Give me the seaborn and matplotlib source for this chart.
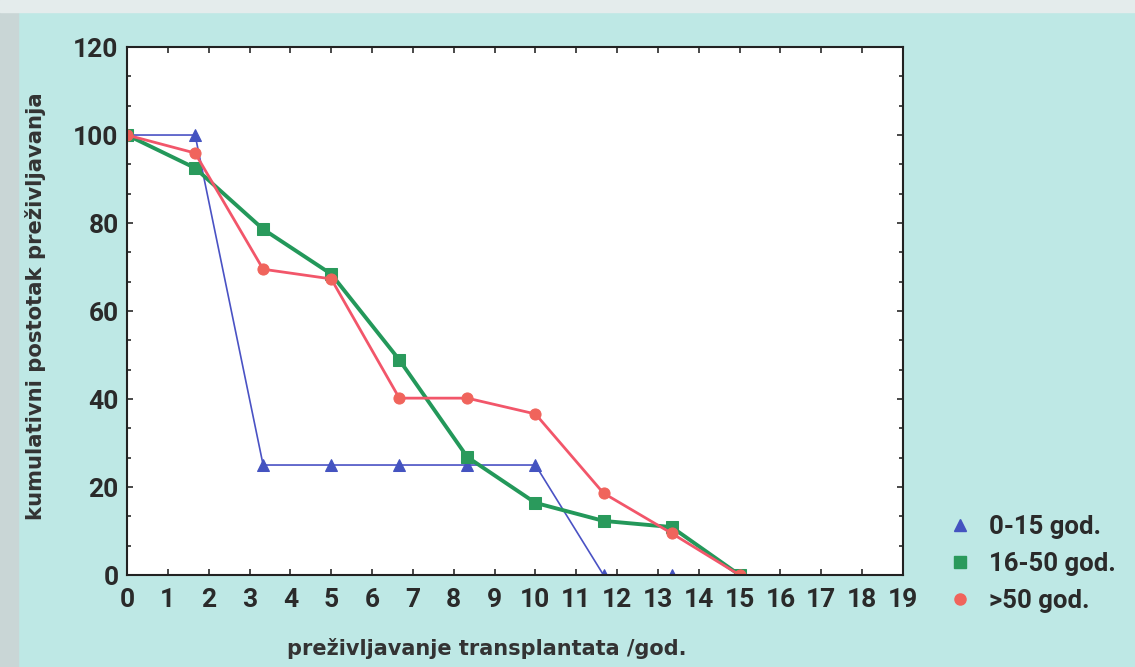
import numpy as np
import pandas as pd
import seaborn as sns
import matplotlib.pyplot as plt
from matplotlib.lines import Line2D
from matplotlib.patches import Rectangle
from matplotlib.ticker import MultipleLocator, AutoMinorLocator

# data (years, cumulative survival %)
years = [0, 1.667, 3.333, 5, 6.667, 8.333, 10, 11.667, 13.333, 15]
group_0_15 = [100, 100, 25, 25, 25, 25, 25, 0, 0]
group_16_50 = [100, 92.5, 78.6, 68.4, 48.9, 26.8, 16.4, 12.3, 10.9, 0]
group_50 = [100, 95.9, 69.5, 67.3, 40.2, 40.2, 36.6, 18.6, 9.5, 0]
labels = ['0-15 god.', '16-50 god.', '>50 god.']

colors = ['#4a52c4', '#23985a', '#f2566a']
marker_colors = ['#4453c0', '#2a9a5c', '#f0645c']
markers = ['^', 's', 'o']
widths = [1.2, 2.8, 2.0]

series = [group_0_15, group_16_50, group_50]
frames = []
for lab, vals in zip(labels, series):
    frames.append(pd.DataFrame({'t': years[:len(vals)], 'pct': vals, 'grupa': lab}))
df = pd.concat(frames, ignore_index=True)

sns.set_style('ticks')
plt.rcParams['font.family'] = ['Roboto', 'DejaVu Sans']
plt.rcParams['font.weight'] = 'bold'

bg = '#bee8e5'
fig = plt.figure(figsize=(11.35, 6.67), dpi=100, facecolor=bg)
# scan edges
fig.patches.append(Rectangle((0, 0), 0.016, 1, transform=fig.transFigure,
                             color='#c9d6d6', zorder=0))
fig.patches.append(Rectangle((0, 0.982), 1, 0.018, transform=fig.transFigure,
                             color='#e4ecec', zorder=0))
ax = fig.add_axes([0.1119, 0.1379, 0.6837, 0.7916])
ax.set_facecolor('white')

for lab, c, mc, m, lw in zip(labels, colors, marker_colors, markers, widths):
    sns.lineplot(data=df[df.grupa == lab], x='t', y='pct', ax=ax, color=c,
                 linewidth=lw, marker=m, markersize=8, markerfacecolor=mc,
                 markeredgecolor=mc, legend=False)

ax.set_xlim(0, 19)
ax.set_ylim(0, 120)
ax.xaxis.set_major_locator(MultipleLocator(1))
ax.yaxis.set_major_locator(MultipleLocator(20))
ax.yaxis.set_minor_locator(AutoMinorLocator(3))
ax.tick_params(which='both', direction='in', top=True, right=True,
               labelsize=19, length=4, width=1.2, pad=6, colors='#2a2a2a')
ax.tick_params(which='minor', length=3)
ax.tick_params(axis='x', pad=9)
for s in ax.spines.values():
    s.set_linewidth(1.5)
    s.set_color('#222222')

ax.set_xlabel('preživljavanje transplantata /god.', fontsize=15,
              family=['DejaVu Sans'], fontweight='bold', color='#333333')
ax.xaxis.set_label_coords(0.464, -0.12)
ax.set_ylabel('kumulativni postotak preživljavanja', fontsize=15.2,
              family=['DejaVu Sans'], fontweight='bold', color='#333333')
ax.yaxis.set_label_coords(-0.104, 0.51)

handles = [Line2D([], [], linestyle='none', marker=m, color=mc, markersize=8)
           for m, mc in zip(markers, marker_colors)]
fig.legend(handles, labels, loc='upper left', bbox_to_anchor=(0.814, 0.262),
           frameon=False, fontsize=18.5, handlelength=1.0, handletextpad=0.63,
           labelspacing=0.5, labelcolor='#2a2a2a')

fig.savefig('out.png', dpi=100, facecolor=bg)
